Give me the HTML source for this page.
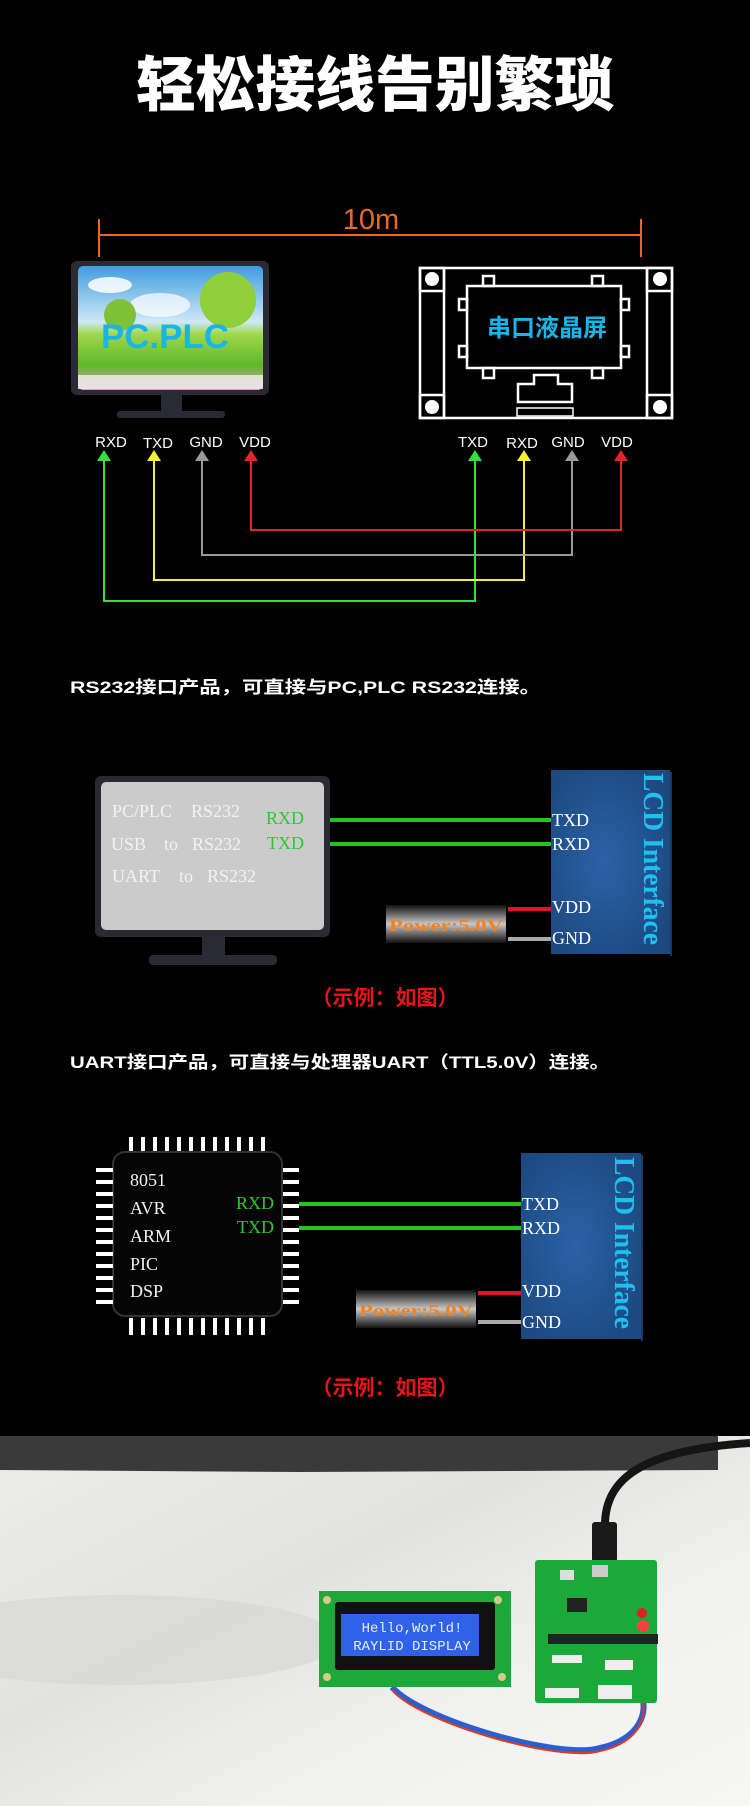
<!DOCTYPE html>
<html><head><meta charset="utf-8"><style>
html,body{margin:0;padding:0;background:#000;}
body{width:750px;height:1806px;position:relative;overflow:hidden;}
svg{position:absolute;left:0;top:0;}
</style></head><body>
<svg width="750" height="1806" viewBox="0 0 750 1806" xmlns="http://www.w3.org/2000/svg">
<defs>
<linearGradient id="sky" x1="0" y1="0" x2="0" y2="1">
<stop offset="0" stop-color="#3f9de0"/><stop offset="0.45" stop-color="#cfe8f7"/><stop offset="0.55" stop-color="#9fd84a"/><stop offset="0.8" stop-color="#5cb82a"/><stop offset="1" stop-color="#e8a0c0"/></linearGradient>
<radialGradient id="lcdg" cx="0.45" cy="0.5" r="0.6"><stop offset="0" stop-color="#2a62a8"/><stop offset="1" stop-color="#1d4980"/></radialGradient>
<linearGradient id="pw" x1="0" y1="0" x2="0" y2="1"><stop offset="0" stop-color="#111"/><stop offset="0.5" stop-color="#c8c8c8"/><stop offset="1" stop-color="#111"/></linearGradient>
<linearGradient id="bg" x1="0" y1="0" x2="1" y2="1"><stop offset="0" stop-color="#ececea"/><stop offset="0.4" stop-color="#e2e2e0"/><stop offset="0.7" stop-color="#f2f2f0"/><stop offset="1" stop-color="#f6f6f4"/></linearGradient>
</defs>
<text x="375" y="106" text-anchor="middle" font-family="Noto Sans CJK SC, sans-serif" font-weight="900" font-size="60" fill="#fff" textLength="478" lengthAdjust="spacingAndGlyphs">轻松接线告别繁琐</text>
<text x="371" y="229" text-anchor="middle" font-family="Liberation Sans, sans-serif" font-size="29" fill="#e8682c">10m</text>
<g stroke="#e8682c" stroke-width="2"><line x1="99" y1="235" x2="641" y2="235"/><line x1="99" y1="219" x2="99" y2="257"/><line x1="641" y1="219" x2="641" y2="257"/></g>
<rect x="71" y="261" width="198" height="134" rx="6" fill="#2a2a34"/>
<rect x="78" y="266" width="185" height="124" rx="5" fill="url(#sky)"/>
<ellipse cx="110" cy="285" rx="22" ry="8" fill="#fff" opacity="0.85"/>
<ellipse cx="160" cy="305" rx="30" ry="12" fill="#fff" opacity="0.7"/>
<circle cx="228" cy="300" r="28" fill="#8fcf3a"/><circle cx="120" cy="315" r="16" fill="#7fc23a"/>
<rect x="78" y="375" width="185" height="14" fill="#f0f0f0" opacity="0.8"/>
<text x="165" y="348" text-anchor="middle" font-family="Liberation Sans, sans-serif" font-weight="bold" font-size="34" fill="#19b5e8" textLength="128" lengthAdjust="spacingAndGlyphs">PC.PLC</text>
<rect x="161" y="395" width="21" height="16" fill="#2a2a34"/>
<rect x="117" y="411" width="108" height="7" rx="3" fill="#2a2a34"/>
<g fill="none" stroke="#fff" stroke-width="2.5">
<rect x="420" y="268" width="252" height="150"/>
<line x1="444" y1="268" x2="444" y2="418"/><line x1="647" y1="268" x2="647" y2="418"/>
<rect x="420" y="268" width="24" height="23"/><rect x="647" y="268" width="25" height="23"/>
<rect x="420" y="395" width="24" height="23"/><rect x="647" y="395" width="25" height="23"/>
<rect x="467" y="286" width="154" height="82"/>
<rect x="483" y="276" width="11" height="10"/><rect x="592" y="276" width="11" height="10"/>
<rect x="483" y="368" width="11" height="10"/><rect x="592" y="368" width="11" height="10"/>
<rect x="459" y="299" width="8" height="11"/><rect x="459" y="346" width="8" height="11"/>
<rect x="621" y="299" width="8" height="11"/><rect x="621" y="346" width="8" height="11"/>
<path d="M518 402 V384 H534 V375 H558 V384 H572 V402 Z"/>
<rect x="517" y="408" width="56" height="8" stroke-width="1.5"/>
</g>
<g fill="#fff"><circle cx="432" cy="279" r="7"/><circle cx="660" cy="279" r="7"/><circle cx="432" cy="407" r="7"/><circle cx="660" cy="407" r="7"/></g>
<text x="547" y="336" text-anchor="middle" font-family="Noto Sans CJK SC, sans-serif" font-weight="bold" font-size="24" fill="#19b5e8">串口液晶屏</text>
<g font-family="Liberation Sans, sans-serif" font-size="15" fill="#fff" text-anchor="middle">
<text x="111" y="447">RXD</text><text x="158" y="448">TXD</text><text x="206" y="447">GND</text><text x="255" y="447">VDD</text>
<text x="473" y="447">TXD</text><text x="522" y="448">RXD</text><text x="568" y="447">GND</text><text x="617" y="447">VDD</text>
</g>
<g stroke-width="2" fill="none">
<polyline points="104,458 104,601 475,601 475,458" stroke="#33e03a"/>
<polyline points="154,458 154,580 524,580 524,458" stroke="#f4f03a"/>
<polyline points="202,458 202,555 572,555 572,458" stroke="#9a9a9a"/>
<polyline points="251,458 251,530 621,530 621,458" stroke="#e0262a"/>
</g>
<polygon points="104,450 97,461 111,461" fill="#33e03a"/><polygon points="154,450 147,461 161,461" fill="#f4f03a"/>
<polygon points="202,450 195,461 209,461" fill="#9a9a9a"/><polygon points="251,450 244,461 258,461" fill="#e0262a"/>
<polygon points="475,450 468,461 482,461" fill="#33e03a"/><polygon points="524,450 517,461 531,461" fill="#f4f03a"/>
<polygon points="572,450 565,461 579,461" fill="#9a9a9a"/><polygon points="621,450 614,461 628,461" fill="#e0262a"/>
<text x="70" y="693" font-family="Liberation Sans, Noto Sans CJK SC, sans-serif" font-weight="bold" font-size="17" fill="#fff" textLength="471" lengthAdjust="spacingAndGlyphs">RS232接口产品，可直接与PC,PLC RS232连接。</text>
<rect x="95" y="776" width="235" height="161" rx="6" fill="#2a2a34"/>
<rect x="101" y="782" width="223" height="148" rx="5" fill="#cbcbcb"/>
<rect x="202" y="937" width="23" height="19" fill="#2a2a34"/>
<rect x="149" y="955" width="128" height="10" rx="4" fill="#2a2a34"/>
<g font-family="Liberation Serif, serif" font-size="18" fill="#f2f2f2">
<text x="112" y="817">PC/PLC</text><text x="191" y="817">RS232</text>
<text x="111" y="850">USB</text><text x="164" y="850">to</text><text x="192" y="850">RS232</text>
<text x="112" y="882">UART</text><text x="179" y="882">to</text><text x="207" y="882">RS232</text>
</g>
<g font-family="Liberation Serif, serif" font-size="18" fill="#2ec82e"><text x="266" y="824">RXD</text><text x="267" y="849">TXD</text></g>
<rect x="330" y="818" width="221" height="4" fill="#22c422"/><rect x="330" y="842" width="221" height="4" fill="#22c422"/>
<rect x="551" y="770" width="119" height="184" fill="url(#lcdg)"/>
<rect x="670" y="772" width="2" height="184" fill="#153a66"/>
<text transform="translate(644,773) rotate(90)" font-family="Liberation Serif, serif" font-weight="bold" font-size="28" fill="#1ec0f0" textLength="172" lengthAdjust="spacingAndGlyphs">LCD Interface</text>
<g font-family="Liberation Serif, serif" font-size="18" fill="#fff"><text x="552" y="826">TXD</text><text x="552" y="850">RXD</text><text x="552" y="913">VDD</text><text x="552" y="944">GND</text></g>
<rect x="386" y="905" width="120" height="38" fill="url(#pw)"/>
<text x="446" y="931" text-anchor="middle" font-family="Liberation Serif, serif" font-weight="bold" font-size="17" fill="#f5821e" textLength="114" lengthAdjust="spacingAndGlyphs">Power:5.0V</text>
<rect x="508" y="907" width="43" height="4" fill="#e8102a"/><rect x="508" y="937" width="43" height="4" fill="#aaa"/>
<text x="385" y="1005" text-anchor="middle" font-family="Noto Sans CJK SC, sans-serif" font-weight="bold" font-size="21" fill="#e8141a">（示例：如图）</text>
<text x="70" y="1068" font-family="Liberation Sans, Noto Sans CJK SC, sans-serif" font-weight="bold" font-size="17" fill="#fff" textLength="540" lengthAdjust="spacingAndGlyphs">UART接口产品，可直接与处理器UART（TTL5.0V）连接。</text>
<rect x="113" y="1152" width="169" height="164" rx="12" fill="#050505" stroke="#333" stroke-width="2"/>
<g fill="#fff">
<rect x="129" y="1137" width="4" height="14"/><rect x="141" y="1137" width="4" height="14"/><rect x="153" y="1137" width="4" height="14"/><rect x="165" y="1137" width="4" height="14"/><rect x="177" y="1137" width="4" height="14"/><rect x="189" y="1137" width="4" height="14"/><rect x="201" y="1137" width="4" height="14"/><rect x="213" y="1137" width="4" height="14"/><rect x="225" y="1137" width="4" height="14"/><rect x="237" y="1137" width="4" height="14"/><rect x="249" y="1137" width="4" height="14"/><rect x="261" y="1137" width="4" height="14"/>
<rect x="129" y="1318" width="4" height="17"/><rect x="141" y="1318" width="4" height="17"/><rect x="153" y="1318" width="4" height="17"/><rect x="165" y="1318" width="4" height="17"/><rect x="177" y="1318" width="4" height="17"/><rect x="189" y="1318" width="4" height="17"/><rect x="201" y="1318" width="4" height="17"/><rect x="213" y="1318" width="4" height="17"/><rect x="225" y="1318" width="4" height="17"/><rect x="237" y="1318" width="4" height="17"/><rect x="249" y="1318" width="4" height="17"/><rect x="261" y="1318" width="4" height="17"/>
<rect x="96" y="1168" width="17" height="4"/><rect x="96" y="1180" width="17" height="4"/><rect x="96" y="1192" width="17" height="4"/><rect x="96" y="1204" width="17" height="4"/><rect x="96" y="1216" width="17" height="4"/><rect x="96" y="1228" width="17" height="4"/><rect x="96" y="1240" width="17" height="4"/><rect x="96" y="1252" width="17" height="4"/><rect x="96" y="1264" width="17" height="4"/><rect x="96" y="1276" width="17" height="4"/><rect x="96" y="1288" width="17" height="4"/><rect x="96" y="1300" width="17" height="4"/>
<rect x="283" y="1168" width="16" height="4"/><rect x="283" y="1180" width="16" height="4"/><rect x="283" y="1192" width="16" height="4"/><rect x="283" y="1204" width="16" height="4"/><rect x="283" y="1216" width="16" height="4"/><rect x="283" y="1228" width="16" height="4"/><rect x="283" y="1240" width="16" height="4"/><rect x="283" y="1252" width="16" height="4"/><rect x="283" y="1264" width="16" height="4"/><rect x="283" y="1276" width="16" height="4"/><rect x="283" y="1288" width="16" height="4"/><rect x="283" y="1300" width="16" height="4"/>
</g>
<g font-family="Liberation Serif, serif" font-size="18" fill="#f2f2f2"><text x="130" y="1186">8051</text><text x="130" y="1214">AVR</text><text x="130" y="1242">ARM</text><text x="130" y="1270">PIC</text><text x="130" y="1297">DSP</text></g>
<g font-family="Liberation Serif, serif" font-size="18" fill="#2ec82e"><text x="236" y="1209">RXD</text><text x="237" y="1233">TXD</text></g>
<rect x="299" y="1202" width="222" height="4" fill="#22c422"/><rect x="299" y="1226" width="222" height="4" fill="#22c422"/>
<rect x="521" y="1153" width="120" height="186" fill="url(#lcdg)"/>
<rect x="641" y="1155" width="2" height="186" fill="#153a66"/>
<text transform="translate(615,1157) rotate(90)" font-family="Liberation Serif, serif" font-weight="bold" font-size="28" fill="#1ec0f0" textLength="172" lengthAdjust="spacingAndGlyphs">LCD Interface</text>
<g font-family="Liberation Serif, serif" font-size="18" fill="#fff"><text x="522" y="1210">TXD</text><text x="522" y="1234">RXD</text><text x="522" y="1297">VDD</text><text x="522" y="1328">GND</text></g>
<rect x="356" y="1290" width="120" height="38" fill="url(#pw)"/>
<text x="416" y="1316" text-anchor="middle" font-family="Liberation Serif, serif" font-weight="bold" font-size="17" fill="#f5821e" textLength="114" lengthAdjust="spacingAndGlyphs">Power:5.0V</text>
<rect x="478" y="1291" width="43" height="4" fill="#e8102a"/><rect x="478" y="1320" width="43" height="4" fill="#aaa"/>
<text x="385" y="1395" text-anchor="middle" font-family="Noto Sans CJK SC, sans-serif" font-weight="bold" font-size="21" fill="#e8141a">（示例：如图）</text>
<rect x="0" y="1436" width="750" height="370" fill="url(#bg)"/>
<ellipse cx="120" cy="1640" rx="220" ry="45" fill="#d6d6d4" opacity="0.6"/>
<path d="M0 1436 H718 V1470 L300 1472 L0 1470 Z" fill="#3a3a3a"/>
<path d="M750 1443 C640 1450 605 1480 605 1525" stroke="#151515" stroke-width="8" fill="none"/>
<rect x="592" y="1522" width="25" height="40" rx="3" fill="#1a1a1a"/>
<path d="M392 1687 C420 1720 560 1760 600 1748 C640 1740 650 1710 640 1693" stroke="#2b5fd0" stroke-width="6" fill="none"/>
<path d="M392 1687 C420 1720 560 1760 600 1748 C640 1740 650 1710 640 1693" stroke="#e03a1e" stroke-width="2" fill="none" transform="translate(0,3)"/>
<rect x="319" y="1591" width="192" height="96" fill="#1fa83a"/>
<circle cx="327" cy="1600" r="4" fill="#d8c88a"/><circle cx="498" cy="1600" r="4" fill="#d8c88a"/><circle cx="327" cy="1677" r="4" fill="#d8c88a"/><circle cx="502" cy="1677" r="4" fill="#d8c88a"/>
<rect x="335" y="1602" width="160" height="68" rx="3" fill="#111"/>
<rect x="341" y="1614" width="138" height="42" fill="#2f62e8"/>
<g font-family="Liberation Mono, monospace" font-size="14" fill="#e8eeff" text-anchor="middle"><text x="412" y="1632">Hello,World!</text><text x="412" y="1650">RAYLID DISPLAY</text></g>
<rect x="535" y="1560" width="122" height="143" rx="3" fill="#1da83a"/>
<rect x="548" y="1634" width="110" height="10" fill="#222"/>
<rect x="560" y="1570" width="14" height="10" fill="#ddd"/>
<rect x="592" y="1565" width="16" height="12" fill="#ccc"/>
<rect x="567" y="1598" width="20" height="14" fill="#222"/>
<circle cx="642" cy="1613" r="5" fill="#e02020"/><circle cx="643" cy="1626" r="6" fill="#ff4040"/>
<rect x="552" y="1655" width="30" height="8" fill="#eee"/><rect x="605" y="1660" width="28" height="10" fill="#eee"/>
<rect x="545" y="1688" width="34" height="10" fill="#eee"/><rect x="598" y="1685" width="34" height="14" fill="#eee"/>
</svg>
</body></html>
